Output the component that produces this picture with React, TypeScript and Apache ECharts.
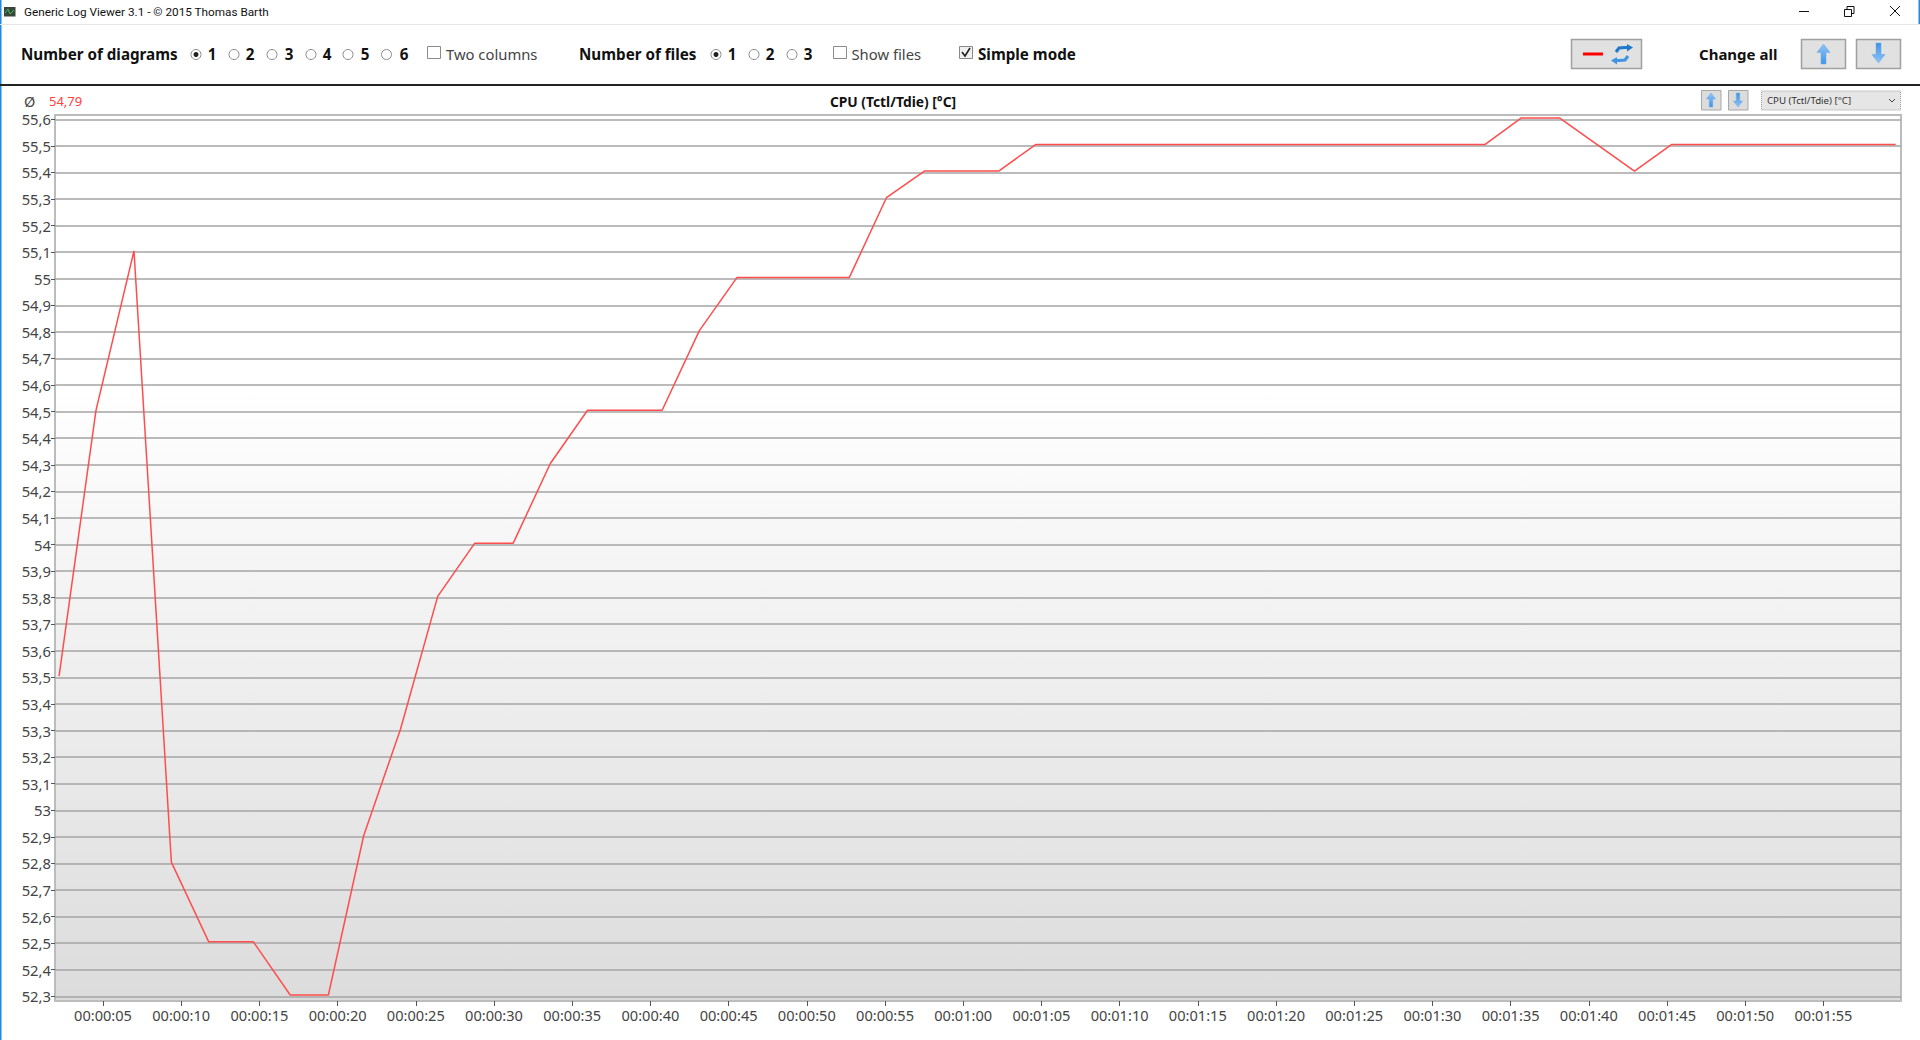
import React, { useEffect, useRef } from "react";
import * as echarts from "echarts";

const seconds = [2.19, 4.55, 6.98, 9.37, 11.76, 14.61, 16.97, 19.41, 21.67, 24.02, 26.4, 28.77, 31.23, 33.6, 35.98, 40.75, 43.13, 45.54, 52.72, 55.09, 57.52, 62.27, 64.63, 93.35, 95.69, 98.12, 102.92, 105.28, 119.62];
const temps = [53.5, 54.5, 55.1, 52.8, 52.5, 52.5, 52.3, 52.3, 52.9, 53.3, 53.8, 54.0, 54.0, 54.3, 54.5, 54.5, 54.8, 55.0, 55.0, 55.3, 55.4, 55.4, 55.5, 55.5, 55.6, 55.6, 55.4, 55.5, 55.5];
const xTicks = [5, 10, 15, 20, 25, 30, 35, 40, 45, 50, 55, 60, 65, 70, 75, 80, 85, 90, 95, 100, 105, 110, 115];

const FONT = '"Noto Sans"';
const TY = 53.5;
const txt = (text: string, x: number, y: number, size: number, fill = "#111", bold = false, align = "left", family = FONT) => ({
  type: "text",
  z: 5,
  style: { text, x, y, font: `${bold ? "bold " : ""}${size}px ${family}`, fill, align, verticalAlign: "middle", textAlign: align, textVerticalAlign: "middle" },
});
const rect = (x: number, y: number, w: number, h: number, fill: any, stroke = "none", lineWidth = 1, z = 3, extra: any = {}) => ({
  type: "rect", z, shape: { x, y, width: w, height: h }, style: { fill, stroke, lineWidth, ...extra },
});
const line = (x1: number, y1: number, x2: number, y2: number, stroke: string, lineWidth = 1) => ({
  type: "line", z: 4, shape: { x1, y1, x2, y2 }, style: { stroke, lineWidth },
});
const radio = (x: number, checked: boolean) => {
  const out: any[] = [{ type: "circle", z: 4, shape: { cx: x, cy: 54.5, r: 5 }, style: { fill: "#fff", stroke: "#8a8a8a", lineWidth: 1 } }];
  if (checked) out.push({ type: "circle", z: 5, shape: { cx: x, cy: 54.5, r: 2.5 }, style: { fill: "#222" } });
  return out;
};
const arrow = (cx: number, top: number, h: number, up: boolean, headW: number, shaftW: number) => {
  const headH = h * 0.42;
  const bottom = top + h;
  const pts = up
    ? [[cx, top], [cx + headW / 2, top + headH], [cx + shaftW / 2, top + headH], [cx + shaftW / 2, bottom], [cx - shaftW / 2, bottom], [cx - shaftW / 2, top + headH], [cx - headW / 2, top + headH]]
    : [[cx, bottom], [cx + headW / 2, bottom - headH], [cx + shaftW / 2, bottom - headH], [cx + shaftW / 2, top], [cx - shaftW / 2, top], [cx - shaftW / 2, bottom - headH], [cx - headW / 2, bottom - headH]];
  return {
    type: "polygon", z: 5, shape: { points: pts },
    style: { fill: new echarts.graphic.LinearGradient(0, 0, 0, 1, up ? [{ offset: 0, color: "#8fc4f7" }, { offset: 1, color: "#3f94e4" }] : [{ offset: 0, color: "#3f94e4" }, { offset: 1, color: "#8fc4f7" }]), stroke: "#6aa8e6", lineWidth: 0.5 },
  };
};
const checkbox = (x: number, checked = false) => {
  const out: any[] = [rect(x + 0.5, 46.5, 13, 12, checked ? "#f0f0f0" : "#fff", "#8a8a8a", 1, 4)];
  if (checked) out.push({ type: "polyline", z: 5, shape: { points: [[x + 3, 52], [x + 6, 56], [x + 11, 48]] }, style: { stroke: "#222", lineWidth: 1.6, fill: "none" } });
  return out;
};

const chrome: any[] = [
  rect(55, 115, 1846, 886, new echarts.graphic.LinearGradient(0, 0, 0, 1, [{ offset: 0, color: "#ffffff" }, { offset: 0.31, color: "#ffffff" }, { offset: 1, color: "#dcdcdc" }]), "#bcbcbc", 2, -10),
  rect(0, 0, 1.5, 1040, "#1e88e5"),
  rect(1918.5, 0, 1.5, 24, "#1e88e5"),
  line(0, 24.5, 1920, 24.5, "#e6e6e6", 1),
  line(0, 85, 1920, 85, "#222", 2),
  rect(4, 7, 11.5, 9.5, "#39463c"),
  { type: "polyline", z: 5, shape: { points: [[5, 13], [8, 9], [10, 14], [14, 10]] }, style: { stroke: "#3fbf57", lineWidth: 1, fill: "none" } },
  txt("Generic Log Viewer 3.1 - © 2015 Thomas Barth", 24, 11.5, 11.75, "#111", false, "left", "Roboto"),
  line(1799, 11.5, 1809, 11.5, "#111", 1),
  rect(1844.5, 9.5, 7, 7, "#fff", "#111", 1, 4),
  { type: "polyline", z: 5, shape: { points: [[1847, 9.5], [1847, 6.5], [1854, 6.5], [1854, 13.5], [1851.5, 13.5]] }, style: { stroke: "#111", lineWidth: 1, fill: "none" } },
  line(1890, 6, 1900, 16, "#111", 1),
  line(1900, 6, 1890, 16, "#111", 1),
  txt("Number of diagrams", 21, TY, 15.2, "#111", true),
  ...radio(196, true), txt("1", 212, TY, 15.2, "#111", true, "center"),
  ...radio(234, false), txt("2", 250, TY, 15.2, "#111", true, "center"),
  ...radio(272, false), txt("3", 289, TY, 15.2, "#111", true, "center"),
  ...radio(311, false), txt("4", 327, TY, 15.2, "#111", true, "center"),
  ...radio(348, false), txt("5", 365, TY, 15.2, "#111", true, "center"),
  ...radio(386.5, false), txt("6", 404, TY, 15.2, "#111", true, "center"),
  ...checkbox(427), txt("Two columns", 446, TY, 14.8, "#444"),
  txt("Number of files", 579, TY, 15.2, "#111", true),
  ...radio(716, true), txt("1", 732, TY, 15.2, "#111", true, "center"),
  ...radio(754, false), txt("2", 770, TY, 15.2, "#111", true, "center"),
  ...radio(792, false), txt("3", 808, TY, 15.2, "#111", true, "center"),
  ...checkbox(833), txt("Show files", 851.5, TY, 14.8, "#444"),
  ...checkbox(959, true), txt("Simple mode", 978, TY, 15.2, "#111", true),
  rect(1571.5, 39.5, 70, 29, "#e1e1e1", "#a0a0a0", 1.5),
  line(1583, 54, 1603, 54, "#ff0000", 3),
  { type: "polyline", z: 5, shape: { points: [[1616, 52], [1619, 48], [1625, 47.5], [1628, 47.5]] }, style: { stroke: "#1f78c8", lineWidth: 3, fill: "none" } },
  { type: "polygon", z: 5, shape: { points: [[1627, 44], [1633, 47.5], [1627, 51.5]] }, style: { fill: "#1f78c8" } },
  { type: "polyline", z: 5, shape: { points: [[1628, 56], [1625, 60], [1619, 60.5], [1616, 60.5]] }, style: { stroke: "#3f94e4", lineWidth: 3, fill: "none" } },
  { type: "polygon", z: 5, shape: { points: [[1617, 57], [1611, 60.5], [1617, 64.5]] }, style: { fill: "#3f94e4" } },
  txt("Change all", 1699, TY, 15, "#111", true),
  rect(1801.5, 39.5, 44, 29, "#e1e1e1", "#a0a0a0", 1.5),
  arrow(1823.5, 44, 20, true, 13, 5),
  rect(1856.5, 39.5, 44, 29, "#e1e1e1", "#a0a0a0", 1.5),
  arrow(1878.5, 43, 20, false, 13, 5),
  txt("Ø", 24, 101, 14.5, "#444"),
  txt("54,79", 49, 101, 13, "#ff4040"),
  txt("CPU (Tctl/Tdie) [°C]", 893, 101, 13.8, "#111", true, "center"),
  rect(1701.5, 90.5, 19.5, 19.5, "#dcdcdc", "#a8a8a8", 1),
  arrow(1711, 93, 14, true, 9, 3.5),
  rect(1728.5, 90.5, 19.5, 19.5, "#dcdcdc", "#a8a8a8", 1),
  arrow(1738, 93, 14, false, 9, 3.5),
  rect(1761.5, 91, 139, 19, "#e6e6e6", "#9a9a9a", 1, 3, { lineDash: [1, 1] }),
  txt("CPU (Tctl/Tdie) [°C]", 1767, 100.5, 9.7, "#333"),
  { type: "polyline", z: 5, shape: { points: [[1889, 99], [1892, 102], [1895, 99]] }, style: { stroke: "#444", lineWidth: 1, fill: "none" } },
];

const clock = (v: number) => {
  const s = Math.round(v);
  const p = (n: number) => String(n).padStart(2, "0");
  return `${p(Math.floor(s / 3600))}:${p(Math.floor(s / 60) % 60)}:${p(s % 60)}`;
};

export default function App() {
  const ref = useRef<HTMLDivElement>(null);
  useEffect(() => {
    document.body.style.margin = "0";
    document.body.style.overflow = "hidden";
    const chart = echarts.init(ref.current!, undefined, { renderer: "svg" });
    chart.setOption({
      animation: false,
      backgroundColor: "#ffffff",
      graphic: { elements: chrome },
      grid: { left: 55, right: 19, top: 119.3, bottom: 43.7 },
      xAxis: {
        type: "value",
        min: 1.93,
        max: 119.96,
        offset: 4.7,
        axisLine: { show: false },
        splitLine: { show: false },
        axisTick: { show: true, length: 5, customValues: xTicks, lineStyle: { color: "#555", width: 1 } },
        axisLabel: { customValues: xTicks, formatter: clock, margin: 6, fontFamily: FONT, fontSize: 14.6, color: "#444" },
      },
      yAxis: [
        {
          type: "value",
          min: 52.3,
          max: 55.6,
          interval: 0.1,
          axisLine: { show: false },
          axisTick: { show: true, length: 4, lineStyle: { color: "#555", width: 1 } },
          splitLine: { show: true, lineStyle: { color: "#a4a4a4", width: 1.5 } },
          axisLabel: {
            margin: 4,
            padding: [2, 0, 0, 0],
            fontFamily: FONT,
            fontSize: 14.8,
            color: "#444",
            formatter: (v: number) => String(Math.round(v * 10) / 10).replace(".", ","),
          },
        },
        { type: "value", show: false, min: 52.295, max: 55.595, interval: 0.1, splitLine: { show: false } },
      ],
      series: [
        {
          type: "line",
          yAxisIndex: 1,
          clip: false,
          symbol: "none",
          data: seconds.map((t, i) => [t, temps[i]]),
          lineStyle: { color: "#ff4d4d", width: 1.5 },
        },
      ],
    });
    return () => chart.dispose();
  }, []);
  return <div ref={ref} style={{ position: "absolute", left: 0, top: 0, width: 1920, height: 1040 }} />;
}
